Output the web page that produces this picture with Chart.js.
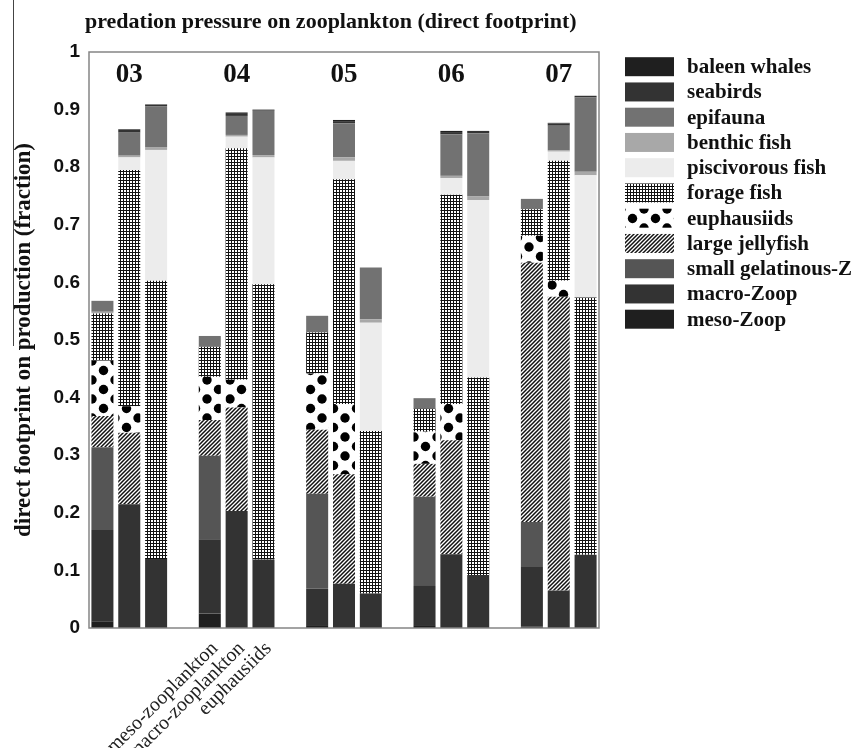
<!DOCTYPE html>
<html>
<head>
<meta charset="utf-8">
<script src="https://cdn.jsdelivr.net/npm/chart.js@4/dist/chart.umd.min.js"></script>
<style>
  html, body { margin: 0; padding: 0; background: #fff; }
  #wrap { width: 854px; height: 748px; position: relative; }
</style>
</head>
<body>
<div id="wrap"><canvas id="c"></canvas></div>
<script>
// Years and the three prey groups drawn for each year
const years = ['03', '04', '05', '06', '07'];
const preyGroups = ['meso-zooplankton', 'macro-zooplankton', 'euphausiids'];
const labelledYear = '04';

// Direct footprint by predator, one value per bar (year x prey group)
const mesoZoop     = [0.011, 0,     0,     0.025, 0,     0,     0.005, 0,     0,     0.005, 0,     0,     0.002, 0,     0];
const macroZoop    = [0.159, 0.215, 0.120, 0.129, 0.203, 0.119, 0.063, 0.077, 0.060, 0.068, 0.128, 0.092, 0.104, 0.065, 0.127];
const smallGelZ    = [0.144, 0,     0,     0.145, 0,     0,     0.165, 0,     0,     0.155, 0,     0,     0.078, 0,     0];
const largeJelly   = [0.054, 0.124, 0,     0.062, 0.180, 0,     0.111, 0.190, 0,     0.057, 0.198, 0,     0.450, 0.510, 0];
const euphausiids  = [0.096, 0.046, 0,     0.075, 0.048, 0,     0.098, 0.122, 0,     0.056, 0.063, 0,     0.047, 0.028, 0];
const forageFish   = [0.082, 0.410, 0.483, 0.052, 0.402, 0.478, 0.071, 0.390, 0.282, 0.040, 0.363, 0.343, 0.046, 0.208, 0.447];
const piscFish     = [0,     0.022, 0.227, 0,     0.020, 0.220, 0,     0.032, 0.188, 0,     0.029, 0.308, 0,     0.016, 0.212];
const benthicFish  = [0.003, 0.003, 0.005, 0,     0.003, 0.004, 0,     0.006, 0.006, 0,     0.004, 0.006, 0,     0.002, 0.006];
const epifauna     = [0.019, 0.040, 0.071, 0.019, 0.033, 0.077, 0.029, 0.059, 0.090, 0.018, 0.072, 0.110, 0.018, 0.043, 0.129];
const seabirds     = [0,     0.005, 0.003, 0,     0.005, 0.002, 0,     0.004, 0,     0,     0.004, 0.004, 0,     0.004, 0.003];
const baleenWhales = [0,     0.001, 0,     0,     0.001, 0,     0,     0.002, 0,     0,     0.002, 0,     0,     0.001, 0];

const SERIF = '"Liberation Serif", "Times New Roman", serif';
const SANS = '"Liberation Sans", Arial, sans-serif';

const canvas = document.getElementById('c');
const ctx = canvas.getContext('2d');

// Slot layout: three bars per year followed by one empty slot
const slotLabels = [];
const slotOfBar = [];
years.forEach((yr, i) => {
  preyGroups.forEach(p => {
    slotOfBar.push(slotLabels.length);
    slotLabels.push(yr === labelledYear ? p : '');
  });
  if (i < years.length - 1) slotLabels.push('');
});
function toSlots(values) {
  const out = new Array(slotLabels.length).fill(null);
  values.forEach((v, i) => { out[slotOfBar[i]] = v; });
  return out;
}

// Fill patterns
function makePattern(w, h, draw) {
  const c = document.createElement('canvas');
  c.width = w; c.height = h;
  const g = c.getContext('2d');
  g.fillStyle = '#fff';
  g.fillRect(0, 0, w, h);
  draw(g, w, h);
  return ctx.createPattern(c, 'repeat');
}
const gridPattern = makePattern(3, 3, (g) => {
  g.fillStyle = '#111';
  g.fillRect(0, 0, 3, 3);
  g.fillStyle = '#fff';
  g.fillRect(1, 1, 2, 2);
});
const hatchPattern = makePattern(4, 4, (g) => {
  g.strokeStyle = '#111';
  g.lineWidth = 1.5;
  g.beginPath();
  g.moveTo(0, 4); g.lineTo(4, 0);
  g.moveTo(-1, 1); g.lineTo(1, -1);
  g.moveTo(3, 5); g.lineTo(5, 3);
  g.stroke();
});
const dotPattern = makePattern(23, 19, (g) => {
  g.fillStyle = '#000';
  [[0, 0], [23, 0], [0, 19], [23, 19], [11.5, 9.5]].forEach(([x, y]) => {
    g.beginPath();
    g.arc(x, y, 4.7, 0, Math.PI * 2);
    g.fill();
  });
});

const series = [
  { label: 'meso-Zoop',          data: mesoZoop,     fill: '#1f1f1f' },
  { label: 'macro-Zoop',         data: macroZoop,    fill: '#333333' },
  { label: 'small gelatinous-Z', data: smallGelZ,    fill: '#555555' },
  { label: 'large jellyfish',    data: largeJelly,   fill: hatchPattern },
  { label: 'euphausiids',        data: euphausiids,  fill: dotPattern },
  { label: 'forage fish',        data: forageFish,   fill: gridPattern },
  { label: 'piscivorous fish',   data: piscFish,     fill: '#ececec' },
  { label: 'benthic fish',       data: benthicFish,  fill: '#a8a8a8' },
  { label: 'epifauna',           data: epifauna,     fill: '#727272' },
  { label: 'seabirds',           data: seabirds,     fill: '#333333' },
  { label: 'baleen whales',      data: baleenWhales, fill: '#1f1f1f' }
];

const datasets = series.map(s => ({
  label: s.label,
  data: toSlots(s.data),
  backgroundColor: s.fill,
  borderWidth: 0,
  barPercentage: 0.82,
  categoryPercentage: 1.0
}));

// Title, year labels, frame and legend
const decorations = {
  id: 'decorations',
  afterDraw(chart) {
    const c = chart.ctx;
    const area = chart.chartArea;
    const xs = chart.scales.x;
    c.save();

    // rule beside the axis title
    c.strokeStyle = '#444';
    c.lineWidth = 1;
    c.beginPath();
    c.moveTo(13.5, 0);
    c.lineTo(13.5, 346);
    c.stroke();

    // plot frame
    c.strokeStyle = '#858585';
    c.lineWidth = 1.5;
    c.strokeRect(area.left, area.top, area.right - area.left, area.bottom - area.top);

    // main title
    c.fillStyle = '#111';
    c.font = 'bold 22px ' + SERIF;
    c.textAlign = 'left';
    c.textBaseline = 'middle';
    c.fillText('predation pressure on zooplankton (direct footprint)', 85, 22);

    // year labels above the middle bar of each group
    c.font = 'bold 27px ' + SERIF;
    c.textAlign = 'center';
    years.forEach((yr, i) => {
      const x = xs.getPixelForValue(slotOfBar[i * 3 + 1]);
      c.fillText(yr, x, area.top + 23);
    });

    // legend, top of the stack first
    c.font = 'bold 21px ' + SERIF;
    c.textAlign = 'left';
    const ds = chart.data.datasets.slice().reverse();
    ds.forEach((d, i) => {
      const cy = 66.7 + i * 25.25;
      c.fillStyle = d.backgroundColor;
      c.fillRect(625, cy - 9.5, 49, 19);
      c.fillStyle = '#111';
      c.fillText(d.label, 687, cy + 1);
    });
    c.restore();
  }
};

new Chart(canvas, {
  type: 'bar',
  data: { labels: slotLabels, datasets },
  options: {
    responsive: true,
    maintainAspectRatio: false,
    animation: false,
    layout: { padding: { top: 52, right: 255, bottom: 0, left: 0 } },
    plugins: {
      legend: { display: false },
      tooltip: { enabled: false },
      title: { display: false }
    },
    scales: {
      x: {
        stacked: true,
        grid: { display: false, drawTicks: false },
        border: { display: false },
        ticks: {
          autoSkip: false,
          minRotation: 45,
          maxRotation: 45,
          padding: 9,
          labelOffset: 5,
          color: '#222',
          font: { family: SERIF, size: 20 }
        },
        afterFit(scale) { scale.height = 120; }
      },
      y: {
        stacked: true,
        min: 0,
        max: 1,
        grid: { display: false, drawTicks: false },
        border: { display: false },
        ticks: {
          stepSize: 0.1,
          padding: 9,
          color: '#111',
          font: { family: SANS, size: 19, weight: 'bold' },
          callback: (v) => String(parseFloat(Number(v).toFixed(1)))
        },
        title: {
          display: true,
          text: 'direct footprint on production (fraction)',
          color: '#111',
          font: { family: SERIF, size: 23, weight: 'bold' },
          padding: { top: 10, bottom: 0 }
        },
        afterFit(scale) { scale.width = 89; }
      }
    }
  },
  plugins: [decorations]
});
</script>
</body>
</html>
